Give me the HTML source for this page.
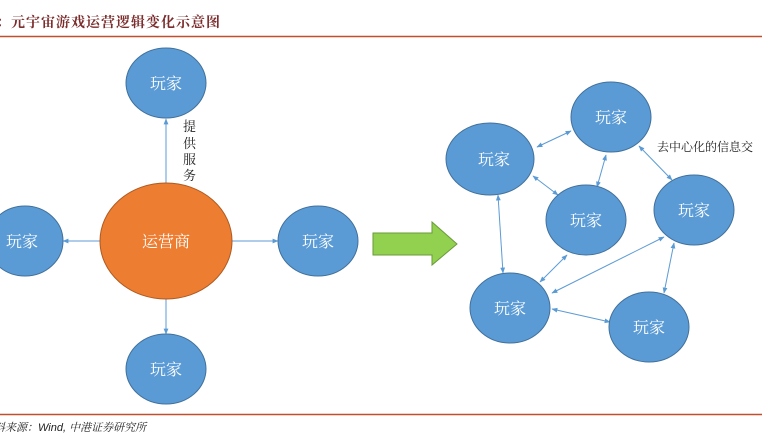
<!DOCTYPE html>
<html><head><meta charset="utf-8"><style>
html,body{margin:0;padding:0;background:#fff;}
svg{display:block}
</style></head><body>
<svg width="762" height="444" viewBox="0 0 762 444" xmlns="http://www.w3.org/2000/svg">
<defs>
<marker id="ah" viewBox="0 0 10 10" refX="9" refY="5" markerWidth="6" markerHeight="6" orient="auto-start-reverse">
<path d="M0,1 L10,5 L0,9 z" fill="#5b9bd5"/></marker>
</defs>
<text x="-4" y="27" font-family="'Noto Serif CJK SC',serif" font-size="14" fill="#7b2c2c" font-weight="bold" letter-spacing="1">：元宇宙游戏运营逻辑变化示意图</text>
<line x1="0" y1="36.5" x2="762" y2="36.5" stroke="#c0502d" stroke-width="1.5"/>
<line x1="0" y1="414.5" x2="762" y2="414.5" stroke="#c0502d" stroke-width="1.5"/>
<text x="-6" y="431" font-family="'Liberation Sans','Noto Serif CJK SC',sans-serif" font-size="11" font-style="italic" fill="#222">料来源：Wind, 中港证券研究所</text>

<g stroke="#5b9bd5" stroke-width="1" fill="none" marker-end="url(#ah)">
<line x1="166" y1="183" x2="166" y2="119"/>
<line x1="100" y1="241" x2="63" y2="241"/>
<line x1="232" y1="241" x2="278" y2="241"/>
<line x1="166" y1="299" x2="166" y2="334"/>
</g>
<g font-family="'Noto Serif CJK SC',serif" font-size="13" fill="#222">
<text x="183" y="131">提</text><text x="183" y="148">供</text><text x="183" y="164">服</text><text x="183" y="180">务</text>
</g>

<g stroke="#41719c" stroke-width="1" fill="#5b9bd5">
<ellipse cx="166" cy="83" rx="40" ry="35"/>
<ellipse cx="25" cy="241" rx="38" ry="35"/>
<ellipse cx="318" cy="241" rx="40" ry="35"/>
<ellipse cx="166" cy="369" rx="40" ry="35"/>
</g>
<ellipse cx="166" cy="241" rx="66" ry="58" fill="#ed7d31" stroke="#ae5a21"/>

<path d="M373,233 L432,233 L432,222 L457,244 L432,265 L432,255 L373,255 Z" fill="#92d050" stroke="#6a9a3a"/>

<g stroke="#5b9bd5" stroke-width="1" fill="none" marker-start="url(#ah)" marker-end="url(#ah)">
<line x1="537" y1="147" x2="571" y2="131"/>
<line x1="533" y1="176" x2="558" y2="195"/>
<line x1="606" y1="155" x2="597" y2="187"/>
<line x1="639" y1="146" x2="672" y2="180"/>
<line x1="498" y1="195" x2="503" y2="273"/>
<line x1="567" y1="255" x2="540" y2="282"/>
<line x1="664" y1="237" x2="552" y2="293"/>
<line x1="674" y1="243" x2="664" y2="293"/>
<line x1="552" y1="309" x2="610" y2="322"/>
</g>
<g stroke="#41719c" stroke-width="1" fill="#5b9bd5">
<ellipse cx="490" cy="159" rx="44" ry="36"/>
<ellipse cx="611" cy="117" rx="40" ry="35"/>
<ellipse cx="586" cy="220" rx="40" ry="35"/>
<ellipse cx="694" cy="210" rx="40" ry="35"/>
<ellipse cx="510" cy="308" rx="40" ry="35"/>
<ellipse cx="649" cy="327" rx="40" ry="35"/>
</g>
<text x="657" y="151" font-family="'Noto Serif CJK SC',serif" font-size="12" fill="#222">去中心化的信息交</text>

<g font-family="'Noto Serif CJK SC',serif" font-size="16" fill="#fff" text-anchor="middle">
<text x="166" y="89">玩家</text>
<text x="22" y="247">玩家</text>
<text x="318" y="247">玩家</text>
<text x="166" y="375">玩家</text>
<text x="166" y="247">运营商</text>
<text x="494" y="165">玩家</text>
<text x="611" y="123">玩家</text>
<text x="586" y="226">玩家</text>
<text x="694" y="216">玩家</text>
<text x="510" y="314">玩家</text>
<text x="649" y="333">玩家</text>
</g>
</svg>
</body></html>
